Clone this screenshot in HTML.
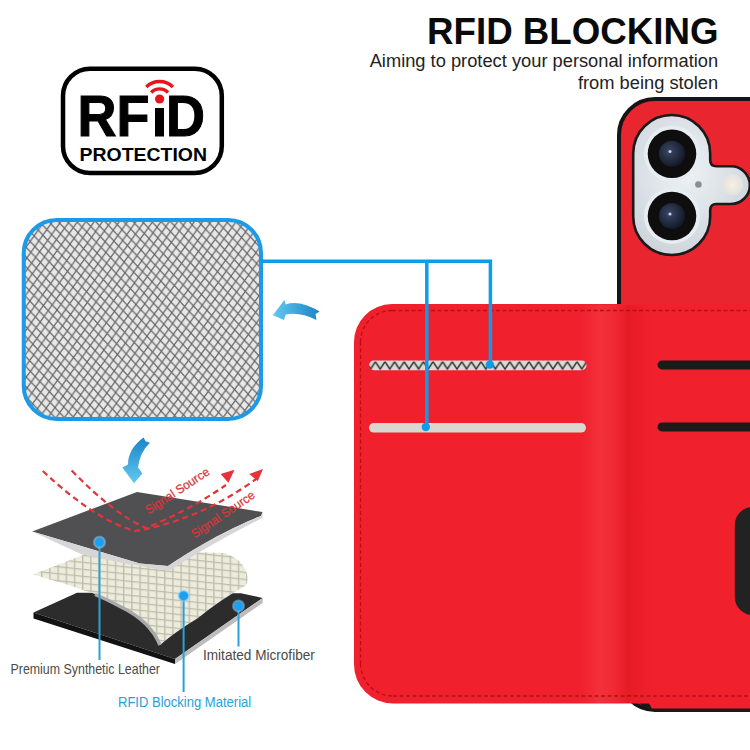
<!DOCTYPE html>
<html><head><meta charset="utf-8">
<style>
html,body{margin:0;padding:0;background:#fff;width:750px;height:750px;overflow:hidden}
svg{display:block;position:absolute;left:0;top:0}
text{font-family:"Liberation Sans",sans-serif}
</style></head>
<body>
<svg width="750" height="750" viewBox="0 0 750 750">
<defs>
  <pattern id="mesh" width="8.8" height="10.8" patternUnits="userSpaceOnUse" x="0" y="0" patternTransform="rotate(-4)">
    <rect width="8.8" height="10.8" fill="#e8e8e8"/>
    <path d="M0 0 L8.8 10.8 M8.8 0 L0 10.8" stroke="#606060" stroke-width="1.1" fill="none"/>
  </pattern>
  <pattern id="zig" width="9.6" height="10" patternUnits="userSpaceOnUse" x="375.4" y="360.6">
    <rect width="9.6" height="10" fill="#dcdad4"/>
    <path d="M0 1.2 L4.8 8.4 L9.6 1.2" stroke="#2e2e2e" stroke-width="1.5" fill="none"/>
  </pattern>
  <pattern id="beige" width="8.2" height="7" patternUnits="userSpaceOnUse" patternTransform="skewY(6)">
    <rect width="8.2" height="7" fill="#ecebdc"/>
    <path d="M0 0.7 H8.2 M0.7 0 V7" stroke="#bebcaa" stroke-width="1.3" fill="none"/>
  </pattern>
  <linearGradient id="arrL" x1="0" y1="0" x2="1" y2="0">
    <stop offset="0" stop-color="#62c9f3"/><stop offset="1" stop-color="#1b84c6"/>
  </linearGradient>
  <linearGradient id="arrD" x1="0" y1="1" x2="0" y2="0">
    <stop offset="0" stop-color="#62c9f3"/><stop offset="1" stop-color="#1b84c6"/>
  </linearGradient>
  <radialGradient id="glow">
    <stop offset="0" stop-color="#1aa0f0"/><stop offset="0.55" stop-color="#1aa0f0"/><stop offset="0.75" stop-color="#7cc8f5" stop-opacity="0.7"/><stop offset="1" stop-color="#bfe4fa" stop-opacity="0"/>
  </radialGradient>
  <radialGradient id="modfill" cx="0.45" cy="0.4" r="0.7">
    <stop offset="0" stop-color="#eef2f5"/><stop offset="1" stop-color="#c9d1d8"/>
  </radialGradient>
  <radialGradient id="glass" cx="0.4" cy="0.4" r="0.6">
    <stop offset="0" stop-color="#3a4766"/><stop offset="1" stop-color="#141a28"/>
  </radialGradient>
  <radialGradient id="flash" cx="0.5" cy="0.5" r="0.5">
    <stop offset="0" stop-color="#f5f1e0"/><stop offset="1" stop-color="#e2e2e0"/>
  </radialGradient>
  <linearGradient id="spine" x1="0" y1="0" x2="1" y2="0">
    <stop offset="0" stop-color="#f0212d"/>
    <stop offset="0.25" stop-color="#f2303b"/>
    <stop offset="0.45" stop-color="#f02a35"/>
    <stop offset="0.65" stop-color="#e71b25"/>
    <stop offset="0.8" stop-color="#eb1d28"/>
    <stop offset="1" stop-color="#f0212d"/>
  </linearGradient>
</defs>

<!-- Title -->
<text x="718.5" y="44.2" text-anchor="end" font-size="36.7" font-weight="bold" fill="#0a0a0a">RFID BLOCKING</text>
<text x="718.2" y="66.5" text-anchor="end" font-size="18.3" fill="#222">Aiming to protect your personal information</text>
<text x="718.2" y="88.6" text-anchor="end" font-size="18.3" fill="#222">from being stolen</text>

<!-- RFID logo -->
<rect x="63" y="68.8" width="158.8" height="104.3" rx="27" ry="27" fill="#fff" stroke="#000" stroke-width="4.5"/>
<g transform="translate(0,136.5) scale(1,1.05) translate(0,-136.5)">
<text x="77.5" y="136.5" font-size="54" font-weight="bold" fill="#000" stroke="#000" stroke-width="1">RF</text>
<text x="166" y="136.5" font-size="54" font-weight="bold" fill="#000" stroke="#000" stroke-width="1">D</text>
</g>
<rect x="155" y="108" width="9" height="28.5" fill="#000"/>
<circle cx="159.6" cy="99" r="4.6" fill="#e8141c"/>
<path d="M151.2 92.5 A11.5 11.5 0 0 1 168 92.5" stroke="#e8141c" stroke-width="3.4" fill="none"/>
<path d="M146.3 87 A19 19 0 0 1 172.9 87" stroke="#e8141c" stroke-width="3.4" fill="none"/>
<text x="79.5" y="160.6" font-size="19.2" font-weight="bold" fill="#000" textLength="127.5" lengthAdjust="spacingAndGlyphs">PROTECTION</text>

<!-- Phone case behind -->
<rect x="619" y="99" width="170" height="611" rx="36" ry="36" fill="#e92630" stroke="#151515" stroke-width="4"/>
<!-- camera module -->
<path d="M633.2 153.5 A38.5 38.5 0 0 1 710.2 153.5 L710.2 160 Q710.2 166.3 716.5 166.3 L731 166.3 A18.85 18.85 0 0 1 731 204 L716.5 204 Q710.2 204 710.2 210.3 L710.2 216.5 A38.5 38.5 0 0 1 633.2 216.5 Z" fill="url(#modfill)" stroke="#1a1a1a" stroke-width="2.6"/>
<circle cx="672" cy="153.7" r="28" fill="#e8edf1"/>
<circle cx="672" cy="153.7" r="24.3" fill="#0e0e0e"/>
<circle cx="672" cy="153.7" r="13" fill="url(#glass)"/>
<circle cx="670" cy="151.5" r="1.6" fill="#c8d0e0"/>
<circle cx="672" cy="216" r="28" fill="#e8edf1"/>
<circle cx="672" cy="216" r="24.3" fill="#0e0e0e"/>
<circle cx="672" cy="216" r="13" fill="url(#glass)"/>
<circle cx="670" cy="214" r="1.6" fill="#c8d0e0"/>
<circle cx="732.5" cy="184.5" r="10.7" fill="url(#flash)"/>
<circle cx="698.4" cy="184.5" r="3.3" fill="#8c8f92"/>

<!-- phone bottom edge under wallet -->
<path d="M636 700 Q646 712 664 712 L750 712 L750 690 L636 690 Z" fill="#1a1a1a"/>

<!-- Wallet -->
<path d="M392 304 L750 304 L750 708.5 L652 708.5 L649 703.5 L393 703.5 A39 39 0 0 1 354 664.5 L354 342 A38 38 0 0 1 392 304 Z" fill="#f0212d"/>
<!-- spine shading -->
<rect x="582" y="305" width="70" height="398" fill="url(#spine)"/>
<!-- stitching -->
<path d="M392 310.5 L750 310.5 M360.5 342 L360.5 664 M393 696 L750 696 M360.5 664 A32.5 32.5 0 0 0 393 696 M360.5 342 A31.5 31.5 0 0 1 392 310.5" stroke="#b80e17" stroke-width="1.3" stroke-dasharray="4 2.5" fill="none"/>

<!-- card slots left -->
<rect x="369" y="360.6" width="217.5" height="9.6" rx="4.8" fill="url(#zig)"/>
<rect x="369" y="423" width="217" height="9.6" rx="4.8" fill="#d9d7cf"/>
<!-- card slots right (black) -->
<rect x="657.5" y="360.6" width="110" height="8.8" rx="4.4" fill="#1b1b1b"/>
<rect x="657.5" y="422.4" width="110" height="9" rx="4.5" fill="#1b1b1b"/>
<!-- black cutout right -->
<rect x="734.8" y="507" width="60" height="108" rx="18" fill="#222"/>

<!-- Gray mesh box -->
<rect x="23.75" y="220" width="237.25" height="199" rx="33" ry="33" fill="url(#mesh)" stroke="#1a9ae8" stroke-width="4"/>

<!-- connecting blue lines -->
<path d="M261 261.3 L490.4 261.3 L490.4 364.5 M426.8 261.3 L426.8 427" stroke="#0d9de8" stroke-width="3.5" fill="none"/>
<circle cx="489.8" cy="364.6" r="4.2" fill="#0d9de8"/>
<circle cx="425.8" cy="427" r="4.2" fill="#0d9de8"/>

<!-- left arrow -->
<path d="M272.8 315.2 L284.4 300 L285.6 304.4 Q300 299.5 319.6 311.6 L315.6 314 L316.4 320 Q300 311.5 285.6 314.4 L284 320 Z" fill="url(#arrL)"/>
<!-- down arrow -->
<path d="M143.6 437.6 L145.6 441.2 L150 442.8 Q140 452 138 467.6 L142.4 473.6 L134 483.2 L122.4 467.6 L128 464.4 Q128 449 143.6 437.6 Z" fill="url(#arrD)"/>

<!-- Layers illustration -->
<!-- bottom black sheet -->
<path d="M33.5 612.5 L77 592.7 L241 593.2 L262.6 598 L175 659 Z" fill="#2c2c2c"/>
<path d="M33.5 612.5 L175 659 L175 664 L33.5 618.5 Z" fill="#121212"/>
<path d="M175 659 L262.6 598 L262.6 603 L175 664 Z" fill="#bcbcbc"/>
<!-- middle mesh sheet -->
<path d="M33 574.4 L82.3 555.3 L130 550 L225 553 Q244 560 247.5 576 Q248 583 245 586 Q220 600 198 618 Q175 632 160 645 Q150 620 121 606 Q105 598 95 594 L65 584 Z" fill="url(#beige)"/>
<path d="M95 594.5 Q105 598.5 121 607 Q150 621 160 645" stroke="#a8a8a8" stroke-width="3.5" fill="none"/>
<!-- top dark sheet -->
<path d="M32.2 531.5 L137 492 L262.6 512 L261 516 C240 524 205 541 168 566 L140 563.5 Z" fill="#505052"/>
<path d="M32.2 531.5 L140 563.5 L168 566 C205 541 240 524 261 516 L262.6 512 L262.6 518 C240 529 206 547 169 571 L125 563.5 L82 554.5 Z" fill="#d6d6d6"/>

<!-- signal source dashed -->
<path d="M42.8 471 Q95 520 135 531 Q200 520 256 479" stroke="#e2343a" stroke-width="2.2" stroke-dasharray="6 4" fill="none"/>
<path d="M71.6 470.4 Q115 515 146 528 Q190 510 226 485" stroke="#e2343a" stroke-width="2.2" stroke-dasharray="6 4" fill="none"/>
<path d="M263 468.9 L249.2 474 L257.8 481 Z M234.5 469.7 L220.6 474 L228.4 482.7 Z" fill="#e2343a"/>
<text x="148.5" y="514.5" font-size="12.2" fill="#d9363b" stroke="#d9363b" stroke-width="0.25" transform="rotate(-33.2 148.5 514.5)" textLength="74" lengthAdjust="spacingAndGlyphs">Signal Source</text>
<text x="194.5" y="538.5" font-size="12.2" fill="#d9363b" stroke="#d9363b" stroke-width="0.25" transform="rotate(-34 194.5 538.5)" textLength="74" lengthAdjust="spacingAndGlyphs">Signal Source</text>

<!-- leader lines -->
<path d="M99.5 542 L99.5 660 M183.6 596 L183.6 692 M238.5 606 L238.5 646.5" stroke="#2a9fd8" stroke-width="2" fill="none"/>
<circle cx="99.5" cy="542.2" r="7" fill="url(#glow)"/>
<circle cx="183.6" cy="595.8" r="7" fill="url(#glow)"/>
<circle cx="238.5" cy="606" r="7" fill="url(#glow)"/>

<text x="10.5" y="674" font-size="14.4" fill="#4a4a4a" textLength="149.5" lengthAdjust="spacingAndGlyphs">Premium Synthetic Leather</text>
<text x="203" y="659.6" font-size="13.8" fill="#4a4a4a" textLength="111.8" lengthAdjust="spacingAndGlyphs">Imitated Microfiber</text>
<text x="118" y="707" font-size="13.8" fill="#2a9fd8" textLength="133.2" lengthAdjust="spacingAndGlyphs">RFID Blocking Material</text>
</svg>
</body></html>
